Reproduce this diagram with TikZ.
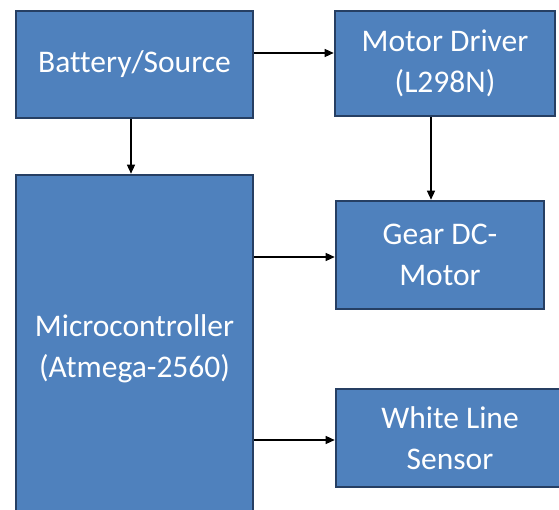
\documentclass[tikz,border=0pt]{standalone}
\usepackage{fontspec}
\setmainfont[Ligatures=NoCommon]{Carlito}
\usetikzlibrary{arrows.meta}
\definecolor{boxfill}{HTML}{4F81BD}
\definecolor{boxline}{HTML}{263F63}
\begin{document}
\begin{tikzpicture}[x=1pt,y=-1pt,
  blk/.style={draw=boxline, line width=2.6pt, fill=boxfill, text=white,
    inner sep=0pt, align=center, font=\fontsize{31.5}{41}\selectfont},
  arr/.style={line width=1.3pt, -{Triangle[length=9pt,width=8pt]}}]
\useasboundingbox (0,0) rectangle (559,510);
\clip (0,0) rectangle (559,510);
\fill[white] (0,0) rectangle (559,510);
\node[blk, minimum width=237pt, minimum height=107pt] (bat) at (134.5,64.5) {\raisebox{-3pt}{Battery/Source}};
\node[blk, minimum width=220pt, minimum height=105pt] (md) at (445,63.5) {Motor Driver\\(L298N)};
\node[blk, minimum width=208pt, minimum height=108pt] (gear) at (440,255) {Gear DC-\\Motor};
\node[blk, minimum width=237pt, minimum height=347pt] (mc) at (134.5,348.5) {Microcontroller\\(Atmega-2560)};
\node[blk, minimum width=228pt, minimum height=98pt] (sen) at (450,438) {White Line\\Sensor};
\draw[arr] (bat.east |- 0,53) -- (md.west |- 0,53);
\draw[arr] (bat.south -| 131,0) -- (mc.north -| 131,0);
\draw[arr] (md.south -| 431,0) -- (gear.north -| 431,0);
\draw[arr] (mc.east |- 0,257) -- (gear.west |- 0,257);
\draw[arr] (mc.east |- 0,440) -- (sen.west |- 0,440);
\end{tikzpicture}
\end{document}
